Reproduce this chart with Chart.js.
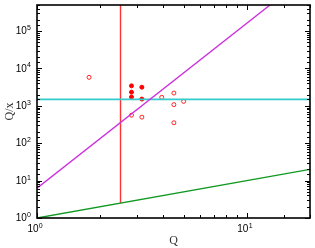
<!DOCTYPE html>
<html>
<head>
<meta charset="utf-8">
<script src="https://cdn.jsdelivr.net/npm/chart.js@4.4.1/dist/chart.umd.min.js"></script>
<style>
  body { margin: 0; background: #fff; }
  canvas { display: block; }
</style>
</head>
<body>
<canvas id="chart" width="315" height="248"></canvas>
<script>
// data
const filledX = [2.82, 2.82, 2.82, 3.16, 3.16];
const filledY = [3440, 2330, 1720, 3160, 1520];
const openX = [1.77, 2.82, 3.16, 3.93, 4.49, 4.49, 5.0, 4.49];
const openY = [5800, 564, 500, 1690, 2200, 1080, 1320, 353];

const greenX = [1, 20];
const greenY = [1, 20];
const magentaX = [1, 12.9];
const magentaY = [6.3, 5e5];
const cyanX = [1, 20];
const cyanY = [1500, 1500];
const redX = [2.5, 2.5];
const redY = [2.5, 5e5];

// decade tick labels: value and exponent
const xTickVals = [1, 10];
const xTickExp = ['0', '1'];
const yTickVals = [1, 10, 100, 1000, 10000, 100000];
const yTickExp = ['0', '1', '2', '3', '4', '5'];

function pts(xs, ys) {
    return xs.map((x, i) => ({ x: x, y: ys[i] }));
}

function isDecade(v) {
    const l = Math.log10(v);
    return Math.abs(l - Math.round(l)) < 1e-9;
}

// box around the plot with inward ticks and 10^n labels, like the original
const boxTicks = {
    id: 'boxTicks',
    afterDraw(chart) {
        const ctx = chart.ctx;
        const a = chart.chartArea;
        const xs = chart.scales.x;
        const ys = chart.scales.y;
        ctx.save();
        ctx.strokeStyle = '#000';
        ctx.lineWidth = 1;
        ctx.beginPath();
        xs.ticks.forEach(t => {
            const p = Math.round(xs.getPixelForValue(t.value)) + 0.5;
            const len = isDecade(t.value) ? 5 : 3;
            ctx.moveTo(p, a.bottom); ctx.lineTo(p, a.bottom - len);
            ctx.moveTo(p, a.top); ctx.lineTo(p, a.top + len);
        });
        ys.ticks.forEach(t => {
            const p = Math.round(ys.getPixelForValue(t.value)) + 0.5;
            const len = isDecade(t.value) ? 5 : 3;
            ctx.moveTo(a.left, p); ctx.lineTo(a.left + len, p);
            ctx.moveTo(a.right, p); ctx.lineTo(a.right - len, p);
        });
        ctx.stroke();
        ctx.lineWidth = 1.6;
        ctx.strokeRect(Math.round(a.left), Math.round(a.top), Math.round(a.right - a.left), Math.round(a.bottom - a.top));

        ctx.fillStyle = '#000';
        ctx.textBaseline = 'middle';
        xTickVals.forEach((v, i) => {
            const p = xs.getPixelForValue(v);
            ctx.font = '10px "Liberation Sans"';
            ctx.textAlign = 'right';
            ctx.fillText('10', p + 1.5, a.bottom + 11.5);
            ctx.font = '7px "Liberation Sans"';
            ctx.textAlign = 'left';
            ctx.fillText(xTickExp[i], p + 1.8, a.bottom + 8);
        });
        yTickVals.forEach((v, i) => {
            const p = ys.getPixelForValue(v);
            ctx.font = '10px "Liberation Sans"';
            ctx.textAlign = 'right';
            ctx.fillText('10', 26.8, p + 0.5);
            ctx.font = '7px "Liberation Sans"';
            ctx.textAlign = 'left';
            ctx.fillText(yTickExp[i], 27, p - 3);
        });
        ctx.restore();
    }
};

const lineStyle = { showLine: true, pointRadius: 0, borderWidth: 1.4, fill: false };

new Chart(document.getElementById('chart'), {
    type: 'scatter',
    data: {
        datasets: [
            Object.assign({ data: pts(greenX, greenY), borderColor: '#119922' }, lineStyle),
            Object.assign({ data: pts(magentaX, magentaY), borderColor: '#cc33dd' }, lineStyle),
            Object.assign({}, lineStyle, { data: pts(cyanX, cyanY), borderColor: '#33cccc', borderWidth: 1.7 }),
            Object.assign({ data: pts(redX, redY), borderColor: '#ff3333' }, lineStyle),
            {
                data: pts(filledX, filledY),
                pointRadius: 2,
                pointStyle: 'circle',
                backgroundColor: '#ff0000',
                borderColor: '#ff0000',
                borderWidth: 1
            },
            {
                data: pts(openX, openY),
                pointRadius: 2,
                pointStyle: 'circle',
                backgroundColor: '#ffffff',
                borderColor: '#ff2222',
                borderWidth: 1
            }
        ]
    },
    options: {
        responsive: false,
        animation: false,
        events: [],
        layout: { padding: { top: 3, right: 5, left: 0, bottom: 0 } },
        plugins: {
            legend: { display: false },
            tooltip: { enabled: false }
        },
        scales: {
            x: {
                type: 'logarithmic',
                min: 1,
                max: 20,
                grid: { display: false, drawTicks: false },
                border: { display: false },
                afterFit(scale) { scale.height = 30; },
                ticks: { display: false, autoSkip: false },
                title: {
                    display: true,
                    text: 'Q',
                    color: '#333',
                    padding: { top: 0, bottom: 0 },
                    font: { family: 'Liberation Serif', size: 12 }
                }
            },
            y: {
                type: 'logarithmic',
                min: 1,
                max: 5e5,
                grid: { display: false, drawTicks: false },
                border: { display: false },
                afterFit(scale) { scale.width = 37; },
                ticks: { display: false, autoSkip: false },
                title: {
                    display: true,
                    text: 'Q/x',
                    color: '#333',
                    padding: { top: 3, bottom: 0 },
                    font: { family: 'Liberation Serif', size: 12 }
                }
            }
        }
    },
    plugins: [boxTicks]
});
</script>
</body>
</html>
